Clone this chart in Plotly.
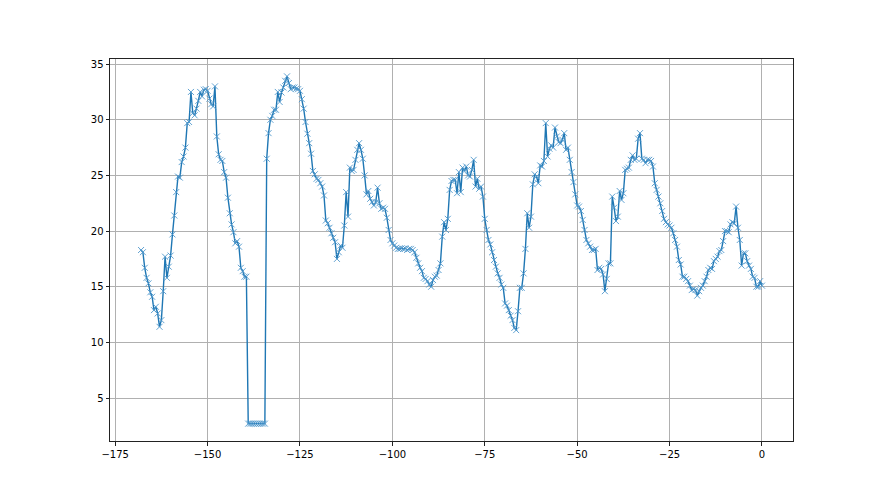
import plotly.graph_objects as go

# half-hour samples, oldest first, last sample at 0
values = [
    18.3, 18.1, 16.7, 15.8, 15.3, 14.5, 14.1, 12.9, 13.2, 12.6,
    11.4, 12.0, 14.6, 17.7, 15.8, 16.8, 17.8, 19.7, 21.4, 23.5,
    24.9, 24.8, 26.2, 26.7, 27.5, 29.7, 29.8, 32.5, 30.6, 30.4,
    31.0, 31.7, 32.5, 32.1, 32.7, 32.75, 32.6, 31.9, 31.4, 31.2,
    33.0, 28.5, 26.9, 26.4, 26.3, 25.3, 24.8, 23.0, 21.6, 20.6,
    19.9, 18.9, 19.1, 18.6, 16.7, 16.4, 15.9, 15.9,
    2.7, 2.7, 2.7, 2.7, 2.7, 2.7, 2.7, 2.7, 2.7, 2.7,
    26.5, 28.8, 30.0, 30.35, 30.9, 30.9, 32.5, 31.6, 32.45, 32.9,
    33.5, 33.9, 33.3, 32.75, 32.9, 32.9, 32.8, 32.75, 32.6, 31.85,
    31.0, 29.8, 28.75, 27.9, 26.95, 25.4, 25.1, 24.7, 24.6, 24.3,
    24.0, 23.2, 20.95, 20.7, 20.3, 19.8, 19.4, 19.0, 17.5, 18.1,
    18.7, 18.5, 20.5, 23.5, 21.3, 25.7, 25.4, 25.5, 26.4, 27.3,
    27.9, 27.3, 26.5, 25.0, 23.3, 23.6, 22.9, 22.6, 22.3, 22.6,
    23.9, 22.5, 22.0, 22.1, 22.0, 21.2, 20.1, 19.2, 18.9, 18.7,
    18.5, 18.4, 18.4, 18.45, 18.4, 18.45, 18.3, 18.4, 18.4, 18.3,
    18.1, 17.6, 17.1, 16.7, 16.4, 15.8, 15.7, 15.5, 15.2, 15.0,
    15.6, 15.9, 16.0, 16.5, 17.1, 19.5, 20.8, 20.1, 21.1, 23.7,
    24.5, 24.6, 24.6, 23.4, 25.3, 23.5, 25.7, 25.4, 25.8, 25.0,
    24.9, 25.5, 26.4, 24.0, 24.7, 23.8, 24.0, 23.1, 21.1, 20.1,
    19.2, 18.8, 18.1, 17.4, 16.8, 16.2, 15.8, 15.2, 14.9, 13.5,
    13.3, 12.9, 12.4, 12.0, 11.3, 11.1, 12.8, 14.9, 14.9, 16.2,
    18.4, 21.6, 20.3, 21.3, 24.2, 25.1, 24.9, 24.3, 25.9, 25.8,
    26.3, 29.7, 26.7, 27.4, 27.7, 27.5, 29.3, 28.5, 28.0, 27.9,
    28.2, 28.8, 27.3, 27.5, 26.4, 25.3, 24.4, 23.3, 22.3, 22.2,
    21.8, 21.0, 20.1, 19.2, 18.9, 18.6, 18.3, 18.3, 18.4, 16.5,
    16.7, 16.6, 16.1, 14.6, 15.7, 17.1, 17.1, 23.1, 22.1, 20.9,
    21.3, 23.6, 22.8, 23.4, 25.5, 25.6, 25.7, 26.4, 26.8, 26.4,
    26.5, 28.3, 28.8, 26.5, 26.4, 26.1, 26.4, 26.4, 26.3, 25.8,
    24.3, 23.7, 23.1, 22.5, 21.8, 21.1, 20.8, 20.6, 20.5, 20.3,
    19.8, 19.2, 18.6, 17.4, 17.0, 15.9, 15.9, 15.7, 15.5, 15.1,
    14.7, 14.8, 14.7, 14.2, 14.6, 14.9, 15.1, 15.5, 15.9, 16.5,
    16.7, 16.6, 17.3, 17.5, 17.7, 18.2, 18.3, 19.1, 20.0, 20.0,
    19.9, 20.6, 20.8, 20.7, 22.2, 20.3, 19.2, 16.9, 18.0, 18.0,
    17.3, 16.9, 16.6, 15.9, 15.8, 15.0, 15.0, 15.5, 15.1,
]
step = 0.5
hours = [-(len(values) - 1 - i) * step for i in range(len(values))]

x_ticks = [-175, -150, -125, -100, -75, -50, -25, 0]
y_ticks = [5, 10, 15, 20, 25, 30, 35]

def label(v):
    return str(v).replace('-', '\u2212')

# matplotlib-like 5% autoscale margins
xpad = (max(hours) - min(hours)) * 0.05
ypad = (max(values) - min(values)) * 0.05

fig = go.Figure()
fig.add_trace(go.Scatter(
    x=hours,
    y=values,
    mode='lines+markers',
    line=dict(color='#1f77b4', width=1.4),
    marker=dict(symbol='x-thin', size=6,
                line=dict(color='#4f97cc', width=0.9)),
    hoverinfo='x+y'
))

axis_style = dict(
    showgrid=True,
    gridcolor='#b0b0b0',
    gridwidth=0.8,
    showline=True,
    linecolor='#222222',
    linewidth=1,
    mirror=True,
    ticks='outside',
    ticklen=3.5,
    tickwidth=0.8,
    tickcolor='#222222',
    zeroline=False,
    tickfont=dict(family='DejaVu Sans', size=10, color='black'),
)

fig.update_xaxes(range=[min(hours) - xpad, max(hours) + xpad],
                 tickvals=x_ticks, ticktext=[label(t) for t in x_ticks],
                 **axis_style)
fig.update_yaxes(range=[min(values) - ypad, max(values) + ypad],
                 tickvals=y_ticks, ticktext=[label(t) for t in y_ticks],
                 **axis_style)

# the page adds an 8px body margin, so margins are shifted by that amount
fig.update_layout(
    width=880,
    height=495,
    margin=dict(l=102, r=95, t=51, b=62),
    paper_bgcolor='white',
    plot_bgcolor='white',
    showlegend=False
)

fig.write_html("out.html")
